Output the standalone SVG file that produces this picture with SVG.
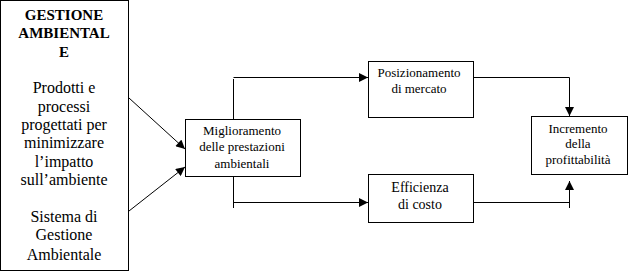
<svg xmlns="http://www.w3.org/2000/svg" width="628" height="272" viewBox="0 0 628 272">
<style>
.box{fill:#fff;stroke:#000;stroke-width:1}
.ln{fill:none;stroke:#000;stroke-width:1}
text{font-family:'Liberation Serif','Times New Roman',serif;fill:#000;text-anchor:middle}
.b{font-weight:bold;font-size:15px}
.r16{font-size:16px}
.r13{font-size:13px}
.r14{font-size:14px}
</style>
<defs>
<marker id="ah" viewBox="0 0 10 10" refX="10" refY="5" markerWidth="10" markerHeight="9" markerUnits="userSpaceOnUse" orient="auto">
<path d="M0,0 L10,5 L0,10 Z" fill="#000"/>
</marker>
</defs>
<rect width="628" height="272" fill="#fff"/>
<g id="gestione">
<rect class="box" x="0.5" y="0.5" width="128" height="270"/>
<text class="b" x="64" y="20">GESTIONE</text>
<text class="b" x="64" y="38">AMBIENTAL</text>
<text class="b" x="64" y="57">E</text>
<text class="r16" x="64" y="93">Prodotti e</text>
<text class="r16" x="64" y="112">processi</text>
<text class="r16" x="64" y="130">progettati per</text>
<text class="r16" x="64" y="148">minimizzare</text>
<text class="r16" x="64" y="167">l’impatto</text>
<text class="r16" x="64" y="185">sull’ambiente</text>
<text class="r16" x="64" y="222">Sistema di</text>
<text class="r16" x="64" y="240">Gestione</text>
<text class="r16" x="64" y="260">Ambientale</text>
</g>
<g id="miglioramento">
<rect class="box" x="185.5" y="119.5" width="115" height="57"/>
<text class="r13" x="242" y="135">Miglioramento</text>
<text class="r13" x="242" y="151">delle prestazioni</text>
<text class="r13" x="242" y="168">ambientali</text>
</g>
<g id="posizionamento">
<rect class="box" x="368.5" y="61.5" width="105" height="56"/>
<text class="r13" x="419" y="77">Posizionamento</text>
<text class="r13" x="419" y="93">di mercato</text>
</g>
<g id="efficienza">
<rect class="box" x="368.5" y="174.5" width="105" height="48"/>
<text class="r14" x="420" y="192">Efficienza</text>
<text class="r14" x="420" y="209">di costo</text>
</g>
<g id="incremento">
<rect class="box" x="531.5" y="116.5" width="96" height="58"/>
<text class="r13" x="578" y="133">Incremento</text>
<text class="r13" x="578" y="148">della</text>
<text class="r13" x="578" y="164">profittabilità</text>
</g>
<g id="connectors">
<path class="ln" d="M129,98 L185,149" marker-end="url(#ah)"/>
<path class="ln" d="M129,211 L185,167" marker-end="url(#ah)"/>
<path class="ln" d="M233.5,119 V79"/>
<path class="ln" d="M233.5,77.5 H368" marker-end="url(#ah)"/>
<path class="ln" d="M233.5,177 V208"/>
<path class="ln" d="M233.5,202.5 H368" marker-end="url(#ah)"/>
<path class="ln" d="M473.5,77.5 H569.5 V116" marker-end="url(#ah)"/>
<path class="ln" d="M473.5,202.5 H569.5"/>
<path class="ln" d="M569.5,208 V181" marker-end="url(#ah)"/>
</g>
</svg>
